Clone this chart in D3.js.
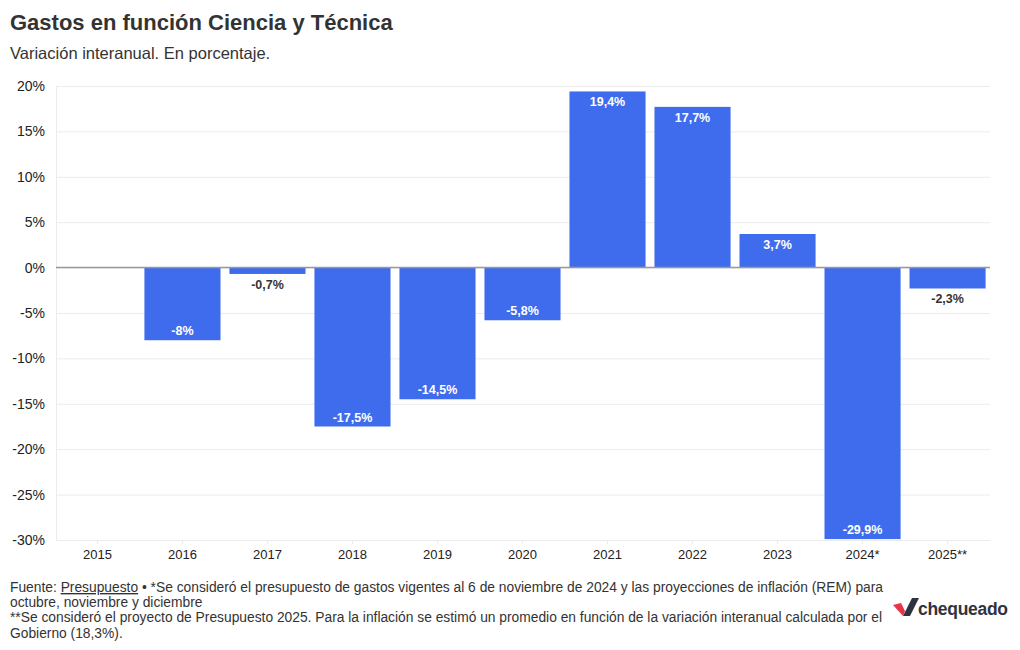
<!DOCTYPE html>
<html><head><meta charset="utf-8">
<script src="https://cdn.jsdelivr.net/npm/d3@7"></script>
<style>
body{margin:0;background:#fff;font-family:"Liberation Sans",Arial,sans-serif;}
</style></head>
<body>
<svg id="c" width="1020" height="650"></svg>
<script>
const categories = ["2015","2016","2017","2018","2019","2020","2021","2022","2023","2024*","2025**"];
const values = [null,-8,-0.7,-17.5,-14.5,-5.8,19.4,17.7,3.7,-29.9,-2.3];
const labels = ["","-8%","-0,7%","-17,5%","-14,5%","-5,8%","19,4%","17,7%","3,7%","-29,9%","-2,3%"];
const yTicks = [20,15,10,5,0,-5,-10,-15,-20,-25,-30];

const svg = d3.select("#c");
const L = 56, R = 989, T = 86, B = 540;
const x = d3.scaleBand().domain(categories).range([L,R]).paddingInner(0.105).paddingOuter(0.04);
const y = d3.scaleLinear().domain([-30,20]).range([B,T]);

svg.append("text").attr("x",10).attr("y",30).attr("font-size",22).attr("font-weight","bold").attr("fill","#333").text("Gastos en función Ciencia y Técnica");
svg.append("text").attr("x",10).attr("y",59).attr("font-size",16.5).attr("fill","#333").text("Variación interanual. En porcentaje.");

// gridlines
const g = svg.append("g");
g.selectAll("line.grid").data(yTicks).join("line").attr("x1",L).attr("x2",R+1)
 .attr("y1",d=>y(d)+0.5).attr("y2",d=>y(d)+0.5).attr("stroke","#ececec").attr("stroke-width",1);
g.append("line").attr("x1",L+0.5).attr("x2",L+0.5).attr("y1",T).attr("y2",B).attr("stroke","#ececec");

// y axis labels
const yAxis = d3.axisLeft(y).tickValues(yTicks).tickFormat(d=>d+"%").tickSize(0).tickPadding(11);
const ya = svg.append("g").attr("transform",`translate(${L},0)`).call(yAxis);
ya.select(".domain").remove();
ya.selectAll("text").attr("font-size",14).attr("fill","#222").attr("font-family","Liberation Sans, Arial, sans-serif");

// x axis
const xAxis = d3.axisBottom(x).tickSize(4).tickPadding(6);
const xa = svg.append("g").attr("transform",`translate(0,${B})`).call(xAxis);
xa.select(".domain").remove();
xa.selectAll("line").attr("stroke","#ececec");
xa.selectAll("text").attr("font-size",13).attr("fill","#222").attr("font-family","Liberation Sans, Arial, sans-serif");

// bars
const data = categories.map((c,i)=>({c, v:values[i], l:labels[i]})).filter(d=>d.v!==null);
svg.append("g").selectAll("rect").data(data).join("rect")
 .attr("x",d=>x(d.c)).attr("width",x.bandwidth())
 .attr("y",d=>y(Math.max(0,d.v))).attr("height",d=>Math.abs(y(d.v)-y(0)))
 .attr("fill","#3f6cec");

// zero line
svg.append("line").attr("x1",L).attr("x2",R+1).attr("y1",y(0)).attr("y2",y(0)).attr("stroke","#999").attr("stroke-width",1.5);

// value labels
svg.append("g").selectAll("text").data(data).join("text")
 .attr("x",d=>x(d.c)+x.bandwidth()/2)
 .attr("text-anchor","middle").attr("font-size",12.5).attr("font-weight","bold")
 .attr("y",d=>{
   const h = Math.abs(y(d.v)-y(0));
   if (d.v>=0) return y(d.v)+15;
   return h>25 ? y(d.v)-5 : y(d.v)+15;
 })
 .attr("fill",d=>{const h=Math.abs(y(d.v)-y(0)); return h>25?"#fff":"#333";})
 .text(d=>d.l);

// footer
const f = svg.append("g").attr("font-size",13.8).attr("fill","#333");
const t1 = f.append("text").attr("x",10).attr("y",592);
t1.append("tspan").text("Fuente: ");
t1.append("tspan").attr("text-decoration","underline").text("Presupuesto");
t1.append("tspan").text(" • *Se consideró el presupuesto de gastos vigentes al 6 de noviembre de 2024 y las proyecciones de inflación (REM) para");
f.append("text").attr("x",10).attr("y",607).text("octubre, noviembre y diciembre");
f.append("text").attr("x",10).attr("y",622).text("**Se consideró el proyecto de Presupuesto 2025. Para la inflación se estimó un promedio en función de la variación interanual calculada por el");
f.append("text").attr("x",10).attr("y",638).text("Gobierno (18,3%).");

// logo
const lg = svg.append("g").attr("transform","translate(893,598)");
lg.append("path").attr("d","M0,7 L8,5 L12,13 L10,18 Z").attr("fill","#e8354a");
lg.append("path").attr("d","M10,18 L19,0 L26,0 L17,18 Z").attr("fill","#2f3341");
lg.append("text").attr("x",25).attr("y",17).attr("font-size",17.5).attr("font-weight","bold").attr("fill","#2f3341").attr("letter-spacing","-0.3").text("chequeado");
</script>
</body></html>
